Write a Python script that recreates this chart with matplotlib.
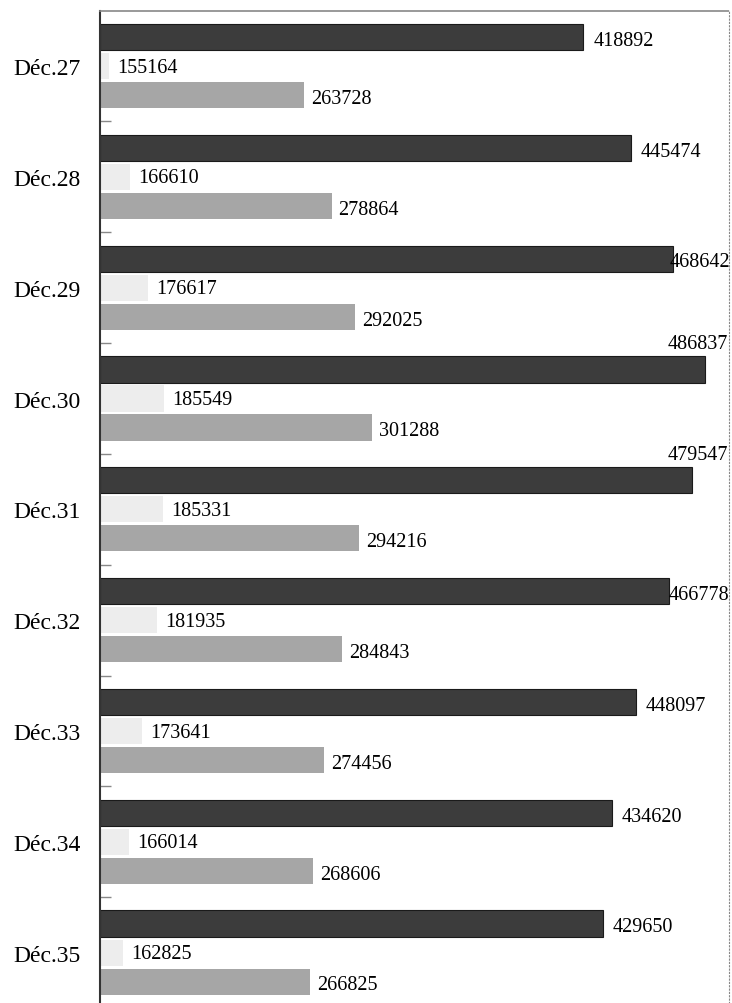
import matplotlib
matplotlib.use("Agg")
import matplotlib.pyplot as plt
import numpy as np

categories = ["Déc.27", "Déc.28", "Déc.29", "Déc.30", "Déc.31", "Déc.32", "Déc.33", "Déc.34", "Déc.35"]
total = [418892, 445474, 468642, 486837, 479547, 466778, 448097, 434620, 429650]
light = [155164, 166610, 176617, 185549, 185331, 181935, 173641, 166014, 162825]
medium = [263728, 278864, 292025, 301288, 294216, 284843, 274456, 268606, 266825]

plt.rcParams['font.family'] = ['Liberation Serif', 'DejaVu Serif']

W, H = 732, 1004
fig = plt.figure(figsize=(W / 100, H / 100), dpi=100)
ax_left, ax_right = 100, 729
ax = fig.add_axes([ax_left / W, 0.0, (ax_right - ax_left) / W, (H - 12) / H])

x0, x1 = 150000, 500000
ax.set_xlim(x0, x1)
ax.set_ylim(8.455, -0.497)

y = np.arange(len(categories))
step = 0.262
h = 0.236
dark_c, light_c, med_c = '#3c3c3c', '#ededed', '#a6a6a6'

ax.barh(y - step, np.array(total) - x0, left=x0, height=h, color=dark_c,
        edgecolor='#1a1a1a', linewidth=0.8)
ax.barh(y, np.array(light) - x0, left=x0, height=h, color=light_c, linewidth=0)
ax.barh(y + step, np.array(medium) - x0, left=x0, height=h, color=med_c, linewidth=0)

px_per_unit = (ax_right - ax_left) / (x1 - x0)
fs_val = 14.5
label_w = 60  # approx width in px of a 6-digit label

def data_dx(px):
    return px / px_per_unit

def px_to_data(px):
    return x0 + (px - ax_left) / px_per_unit

for i, v in enumerate(total):
    end_px = ax_left + (v - x0) * px_per_unit
    if end_px + 10 + label_w <= W:
        ax.text(v + data_dx(10), i - step + 0.03, f"{v}", va='center', ha='left',
                fontsize=fs_val, clip_on=False)
    elif end_px + label_w <= W + 3:
        right_px = min(end_px + label_w, W - 1.5)
        ax.text(px_to_data(right_px), i - step + 0.03, f"{v}", va='center', ha='right',
                fontsize=fs_val, clip_on=False)
    else:
        ax.text(x1 - data_dx(1), i - step - h / 2 - 0.03, f"{v}", va='bottom', ha='right',
                fontsize=fs_val, clip_on=False)

for i, v in enumerate(light):
    ax.text(v + data_dx(8), i + 0.01, f"{v}", va='center', ha='left', fontsize=fs_val)

for i, v in enumerate(medium):
    ax.text(v + data_dx(7), i + step + 0.03, f"{v}", va='center', ha='left', fontsize=fs_val)

ax.set_yticks(y)
ax.set_yticklabels(categories, fontsize=17)
ax.tick_params(axis='y', which='major', length=0, pad=14)
ax.set_yticks(y[:-1] + 0.5, minor=True)
ax.tick_params(axis='y', which='minor', direction='in', length=8, width=1, color='#888888')
ax.set_xticks([])

ax.spines['bottom'].set_visible(False)
ax.spines['left'].set_linestyle((0, (1, 1)))
ax.spines['left'].set_color('#333333')
ax.spines['left'].set_linewidth(1.5)
ax.spines['top'].set_linestyle((0, (2, 1)))
ax.spines['top'].set_color('#888888')
ax.spines['top'].set_linewidth(1.2)
ax.spines['right'].set_linestyle((0, (1, 2)))
ax.spines['right'].set_color('#888888')
ax.spines['right'].set_linewidth(0.8)

fig.savefig("out.png", dpi=100)
